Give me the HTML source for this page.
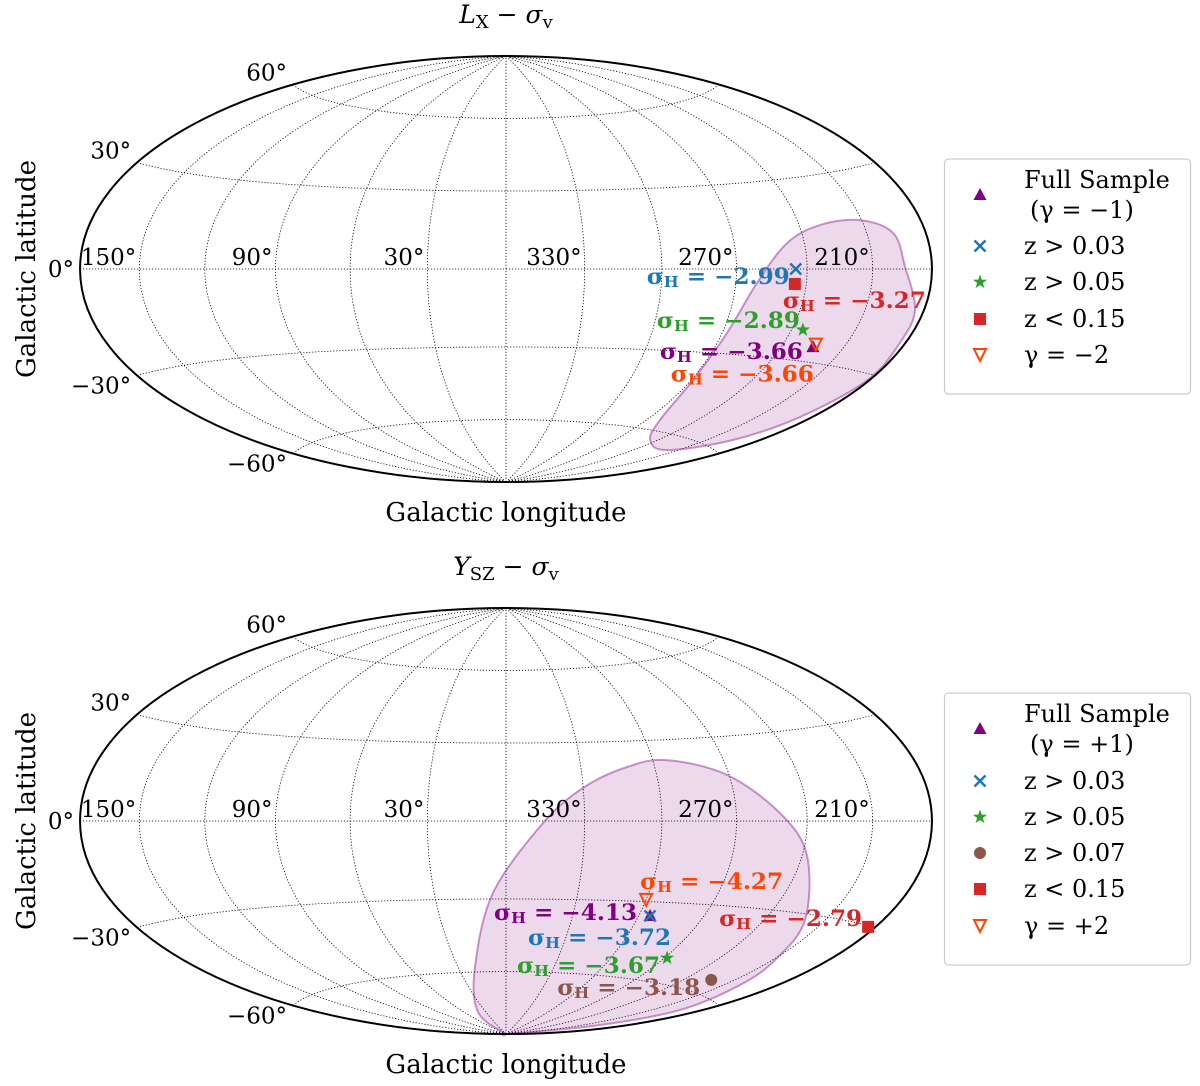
<!DOCTYPE html>
<html><head><meta charset="utf-8"><style>
body{margin:0;background:#fff}
svg{display:block;font-family:"DejaVu Serif","Liberation Serif",serif}
</style></head><body>
<svg id="chart" width="1200" height="1086" viewBox="0 0 1200 1086" xmlns="http://www.w3.org/2000/svg"></svg>
<script>
// ---------- data ----------
const latTicks = [60, 30, 0, -30, -60];
const lonTickLabels = ["150°","90°","30°","330°","270°","210°"];
const lonTickValues = [150, 90, 30, 330, 270, 210];

const topNames = ["Full Sample", "z>0.03", "z>0.05", "z<0.15", "gamma-2"];
const topL = [225, 245, 234.8, 245, 224.5];
const topB = [-25.2, 0, -20, -5, -24.3];
const topSigma = [-3.66, -2.99, -2.89, -3.27, -3.66];
const topContourL = [210.8,230.6,247.6,261.2,267.9,269.1,261.9,245.3,217,194.8,186.6,181,183,184.8,194,197];
const topContourB = [14.9,14.2,8.7,-4.8,-22.6,-40.2,-56,-63.4,-64.9,-56.2,-45.1,-31.6,-20.6,-11.3,0.56,10.4];

const botNames = ["Full Sample", "z>0.03", "z>0.05", "z>0.07", "z<0.15", "gamma+2"];
const botL = [294.8, 294.8, 268.6, 223.4, 184, 300];
const botB = [-35.4, -35.4, -50.6, -55.2, -30.3, -29.4];
const botSigma = [-4.13, -3.72, -3.67, -3.18, -2.79, -4.27];
const botContourL = [294,270.9,251.7,238,220.1,208.7,200.6,192.5,197.2,200,40,41.1,19.4,5.4,345.9,330.1,311.3];
const botContourB = [22.4,16.3,2.7,-11.2,-31.9,-45,-54.1,-65.2,-76.9,-89.5,-89.5,-78.2,-57.8,-27.6,-0.76,12.5,20.2];

// ---------- styling ----------
const S = 150.6, CX = 506;
const styles = {
  tri:{color:"#800080"}, x:{color:"#1f77b4"}, star:{color:"#2ca02c"},
  sq:{color:"#d62728"}, itri:{color:"#ff4500"}, circ:{color:"#8c564b"}
};
const NS = "http://www.w3.org/2000/svg";
const svg = document.getElementById("chart");
function mk(tag, attrs, parent){
  const e = document.createElementNS(NS, tag);
  for (const k in attrs) e.setAttribute(k, attrs[k]);
  (parent||svg).appendChild(e); return e;
}
function proj(l, b, cy){
  let lam = -l; lam = ((lam + 180) % 360 + 360) % 360 - 180;
  const L = lam*Math.PI/180, P = b*Math.PI/180;
  const d = Math.sqrt(1 + Math.cos(P)*Math.cos(L/2));
  return [CX + S*2*Math.SQRT2*Math.cos(P)*Math.sin(L/2)/d, cy - S*Math.SQRT2*Math.sin(P)/d];
}
function projLam(lam, b, cy){
  const L = lam*Math.PI/180, P = b*Math.PI/180;
  const d = Math.sqrt(1 + Math.cos(P)*Math.cos(L/2));
  return [CX + S*2*Math.SQRT2*Math.cos(P)*Math.sin(L/2)/d, cy - S*Math.SQRT2*Math.sin(P)/d];
}
function crPath(pts){
  const n = pts.length; let d = "M" + pts[0][0].toFixed(1) + "," + pts[0][1].toFixed(1);
  for (let i = 0; i < n; i++){
    const p0 = pts[(i-1+n)%n], p1 = pts[i], p2 = pts[(i+1)%n], p3 = pts[(i+2)%n];
    const c1 = [p1[0]+(p2[0]-p0[0])/6, p1[1]+(p2[1]-p0[1])/6];
    const c2 = [p2[0]-(p3[0]-p1[0])/6, p2[1]-(p3[1]-p1[1])/6];
    d += "C"+c1[0].toFixed(1)+","+c1[1].toFixed(1)+" "+c2[0].toFixed(1)+","+c2[1].toFixed(1)+" "+p2[0].toFixed(1)+","+p2[1].toFixed(1);
  }
  return d + "Z";
}
function marker(g, kind, x, y){
  const c = styles[kind].color; let e;
  if (kind === "tri") e = mk("polygon",{points:`${x},${y-7} ${x-6.5},${y+5} ${x+6.5},${y+5}`,fill:c},g);
  else if (kind === "itri") e = mk("polygon",{points:`${x-6},${y-6} ${x+6},${y-6} ${x},${y+6}`,fill:"none",stroke:c,"stroke-width":2},g);
  else if (kind === "x") e = mk("path",{d:`M${x-5.5},${y-5.5}L${x+5.5},${y+5.5}M${x-5.5},${y+5.5}L${x+5.5},${y-5.5}`,stroke:c,"stroke-width":2.5,fill:"none"},g);
  else if (kind === "sq") e = mk("rect",{x:x-6,y:y-6,width:12,height:12,fill:c},g);
  else if (kind === "circ") e = mk("circle",{cx:x,cy:y,r:6,fill:c},g);
  else if (kind === "star"){
    let p = [];
    for (let i=0;i<10;i++){const r=i%2?3:7.5,a=-Math.PI/2+i*Math.PI/5;p.push((x+r*Math.cos(a)).toFixed(1)+","+(y+r*Math.sin(a)).toFixed(1));}
    e = mk("polygon",{points:p.join(" "),fill:c},g);
  }
  return e;
}
function sigmaText(g, val, color, x, y, anchor){
  const t = mk("text",{x:x,y:y,"text-anchor":anchor,"dominant-baseline":"central",fill:color,"font-weight":"bold","font-size":22,textLength:143,lengthAdjust:"spacingAndGlyphs"},g);
  
  
  t.appendChild(document.createTextNode("σ"));
  const s = mk("tspan",{"font-size":15,dy:5},t); s.textContent = "H";
  const r = mk("tspan",{dy:-5},t); r.textContent = " = −" + Math.abs(val).toFixed(2);
}

function panel(cy, titleMain, kinds, L, B, sig, labelOff, cL, cB, legendItems, legendY, name){
  const g = mk("g",{});
  
  
  const grid = mk("g",{stroke:"#000","stroke-width":0.8,"stroke-dasharray":"1.2,1.8",fill:"none"},g);
  
  
  for (const b of [-60,-30,0,30,60]){
    let d=""; for (let lam=-180; lam<=180; lam+=2){const p=projLam(lam,b,cy); d+=(lam===-180?"M":"L")+p[0].toFixed(1)+","+p[1].toFixed(1);}
    mk("path",{d:d},grid);
  }
  for (let lam=-150; lam<=150; lam+=30){
    let d=""; for (let b=-90; b<=90; b+=2){const p=projLam(lam,b,cy); d+=(b===-90?"M":"L")+p[0].toFixed(1)+","+p[1].toFixed(1);}
    mk("path",{d:d},grid);
  }
  const cp = cL.map((l,i)=>proj(l,cB[i],cy));
  const cont = mk("path",{d:crPath(cp),fill:"rgba(128,0,128,0.15)",stroke:"rgba(128,0,128,0.4)","stroke-width":2},g);
  
  
  const bd = mk("ellipse",{cx:CX,cy:cy,rx:2*Math.SQRT2*S,ry:Math.SQRT2*S,fill:"none",stroke:"#000","stroke-width":2},g);
  
  
  lonTickValues.forEach((v,i)=>{
    const p = proj(v, 0, cy);
    const t = mk("text",{x:p[0]-3,y:cy-4,"text-anchor":"end","font-size":23},g);
    
    
    t.textContent = lonTickLabels[i];
  });
  latTicks.forEach(b=>{
    const p = projLam(-180, b, cy);
    const t = mk("text",{x:p[0]-6,y:p[1]+(b>0?-4:(b<0?18:8)),"text-anchor":"end","font-size":23},g);
    
    
    t.textContent = (b<0?"−":"") + Math.abs(b) + "°";
  });
  kinds.forEach((k,i)=>{
    const p = proj(L[i],B[i],cy);
    const m = marker(g,k,p[0],p[1]);
    
    
  });
  kinds.forEach((k,i)=>{
    const p = proj(L[i],B[i],cy); const o = labelOff[i];
    sigmaText(g, sig[i], styles[k].color, p[0]+o[0], p[1]+o[1], o[2]);
  });
  const tt = mk("text",{x:CX,y:cy-246,"text-anchor":"middle","font-size":25,"font-style":"italic"},g);
  
  
  tt.appendChild(document.createTextNode(titleMain[0]));
  const ts = mk("tspan",{"font-size":18,"font-style":"normal",dy:5},tt); ts.textContent = titleMain[1];
  const t3 = mk("tspan",{dy:-5,"font-style":"normal"},tt); t3.textContent = " − ";
  const t4 = mk("tspan",{},tt); t4.textContent = "σ";
  const t5 = mk("tspan",{"font-size":18,"font-style":"normal",dy:5},tt); t5.textContent = "v";
  const xl = mk("text",{x:CX,y:cy+252,"text-anchor":"middle","font-size":26},g);
  
  
  xl.textContent = "Galactic longitude";
  const yl = mk("text",{x:0,y:0,"text-anchor":"middle","font-size":26,transform:`translate(35,${cy}) rotate(-90)`},g);
  
  
  yl.textContent = "Galactic latitude";
  const lg = mk("g",{},g);
  
  
  const h = legendY[legendY.length-1] - legendY[0] + 60;
  mk("rect",{x:944.5,y:legendY[0]-21,width:246,height:h,rx:4,fill:"#fff",stroke:"#ccc","stroke-width":1.2},lg);
  legendItems.forEach((it,i)=>{
    const e = mk("g",{},lg);
    
    
    const y = legendY[i];
    if (it[0]) marker(e,it[0],980,i===0?y+15:y);
    const t = mk("text",{x:1024,y:y+8,"font-size":24},e); t.textContent = it[1];
    if (it[2]){ const t2 = mk("text",{x:1030,y:y+38,"font-size":24},e); t2.textContent = it[2]; }
  });
}

panel(269, ["L","X"], ["tri","x","star","sq","itri"], topL, topB, topSigma,
  [[-10,5,"end"],[-6,8,"end"],[-3,-9,"end"],[-12,17,"start"],[-2,30,"end"]],
  topContourL, topContourB,
  [["tri","Full Sample","(γ = −1)"],["x","z > 0.03"],["star","z > 0.05"],["sq","z < 0.15"],["itri","γ = −2"]],
  [180,246,282,319,355], "top-panel-lx");
panel(821, ["Y","SZ"], ["tri","x","star","circ","sq","itri"], botL, botB, botSigma,
  [[-13,-3,"end"],[21,22,"end"],[-7,8,"end"],[-11,8,"end"],[-6,-8,"end"],[-6,-18,"start"]],
  botContourL, botContourB,
  [["tri","Full Sample","(γ = +1)"],["x","z > 0.03"],["star","z > 0.05"],["circ","z > 0.07"],["sq","z < 0.15"],["itri","γ = +2"]],
  [714,781,817,853,889,926], "bottom-panel-ysz");
</script>
</body></html>
